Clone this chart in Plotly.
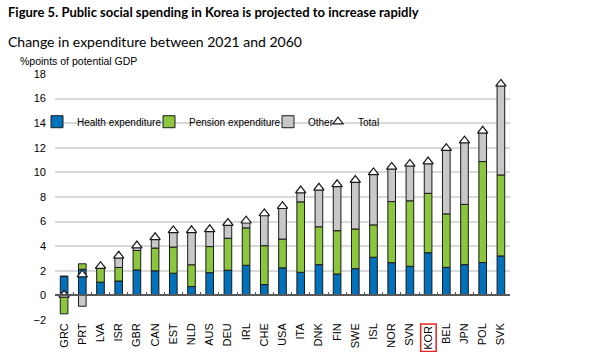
import plotly.graph_objects as go

countries = ["GRC", "PRT", "LVA", "ISR", "GBR", "CAN", "EST", "NLD", "AUS", "DEU",
             "IRL", "CHE", "USA", "ITA", "DNK", "FIN", "SWE", "ISL", "NOR", "SVN",
             "KOR", "BEL", "JPN", "POL", "SVK"]
health = [1.55, 2.12, 1.08, 1.17, 2.07, 2.00, 1.80, 0.72, 1.85, 2.05,
          2.45, 0.88, 2.24, 1.88, 2.50, 1.74, 2.17, 3.10, 2.66, 2.37,
          3.47, 2.28, 2.50, 2.67, 3.21]
pension = [-1.50, 0.45, 1.15, 1.10, 1.58, 1.85, 2.13, 1.77, 2.12, 2.60,
           3.04, 3.16, 2.34, 5.72, 3.08, 3.52, 3.23, 2.63, 4.97, 5.32,
           4.83, 4.35, 4.90, 8.21, 6.58]
other = [0.00, -0.88, 0.15, 0.95, 0.40, 0.87, 1.35, 2.80, 1.40, 1.23,
         0.58, 2.62, 2.67, 0.92, 3.17, 3.77, 3.98, 4.27, 2.82, 3.00,
         2.58, 5.34, 5.18, 2.50, 7.40]
total = [round(h + p + o, 2) for h, p, o in zip(health, pension, other)]
highlight = "KOR"

C_HEALTH = "#0072BC"
C_PENSION = "#8CC63F"
C_OTHER = "#C8C8C8"
FONT = "Liberation Sans, Arial"

fig = go.Figure()
series = [("Health expenditure", health, C_HEALTH, "legend"),
          ("Pension expenditure", pension, C_PENSION, "legend2"),
          ("Other", other, C_OTHER, "legend3")]
for name, vals, col, leg in series:
    fig.add_trace(go.Bar(x=countries, y=vals, name=name, width=0.42, legend=leg,
                         marker=dict(color=col, line=dict(color="#1a1a1a", width=1))))

fig.add_trace(go.Scatter(x=countries, y=total, name="Total", mode="markers", xaxis="x2",
                         legend="legend4",
                         marker=dict(symbol="triangle-up", size=9, color="white",
                                     line=dict(color="#1a1a1a", width=1.2))))

leg_common = dict(orientation="h", xanchor="left", y=0.806, yanchor="middle",
                  bgcolor="rgba(0,0,0,0)", font=dict(family=FONT, size=10), itemwidth=30)

fig.update_layout(
    width=609, height=352,
    margin=dict(l=55, r=99, t=74, b=32, autoexpand=False),
    paper_bgcolor="white", plot_bgcolor="white",
    barmode="relative",
    font=dict(family=FONT, size=11, color="black"),
    title=dict(text="<b>Figure 5. Public social spending in Korea is projected to increase rapidly</b>",
               x=8 / 609, xanchor="left", xref="container",
               y=1 - 12 / 352, yanchor="middle", yref="container",
               font=dict(family="Lato", size=13, color="black")),
    xaxis=dict(type="category", tickangle=-90, showgrid=False, ticks="",
               showline=False, tickfont=dict(size=11), range=[-0.5, len(countries) - 0.5]),
    xaxis2=dict(type="category", overlaying="x", matches="x", anchor="free", position=0.1,
                side="bottom", showticklabels=False, ticks="inside", tickson="boundaries",
                ticklen=3, tickcolor="#595959", showline=True, linecolor="#595959",
                linewidth=1.5, showgrid=False),
    yaxis=dict(range=[-2, 18], dtick=2, showgrid=True, gridcolor="#D9D9D9", gridwidth=1.5,
               zeroline=False, ticks="", ticklabelstandoff=8, tickfont=dict(size=11)),
    legend=dict(x=(37 - 55) / 455, **leg_common),
    legend2=dict(x=(149 - 55) / 455, **leg_common),
    legend3=dict(x=(268 - 55) / 455, **leg_common),
    legend4=dict(x=(318 - 55) / 455, **leg_common),
    showlegend=True,
)

fig.add_annotation(text="Change in expenditure between 2021 and 2060", xref="paper", yref="paper",
                   x=(6 - 55) / 455, y=(320 - 42) / 246, xanchor="left", yanchor="middle",
                   showarrow=False, font=dict(family="Lato", size=14, color="black"))
fig.add_annotation(text="%points of potential GDP", xref="paper", yref="paper",
                   x=(18 - 55) / 455, y=(320 - 61) / 246, xanchor="left", yanchor="middle",
                   showarrow=False, font=dict(size=10.5, color="black"))
fig.add_annotation(text=highlight, xref="x", yref="paper", x=highlight, y=-0.015,
                   xanchor="center", yanchor="top", textangle=-90, showarrow=False,
                   bordercolor="#E8211C", borderwidth=1.5, borderpad=1, bgcolor="white",
                   font=dict(size=11, color="black"))

fig.write_html("out.html")
